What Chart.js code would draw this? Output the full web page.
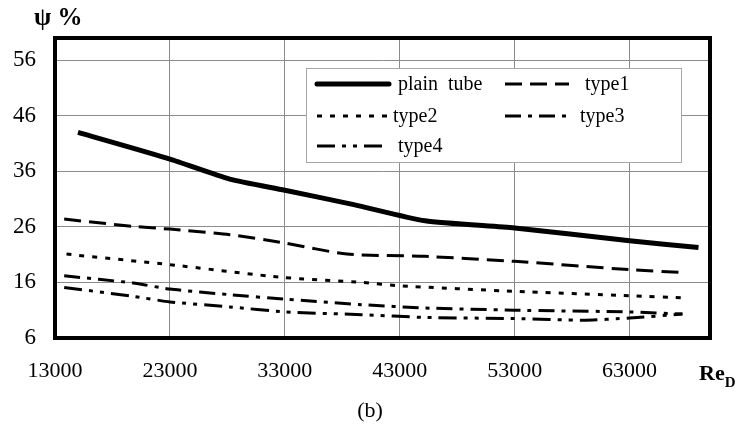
<!DOCTYPE html>
<html>
<head>
<meta charset="utf-8">
<script src="https://cdn.jsdelivr.net/npm/chart.js@4/dist/chart.umd.min.js"></script>
<style>
  html, body { margin: 0; padding: 0; background: #fff; }
  #wrap { width: 739px; height: 426px; }
</style>
</head>
<body>
<div id="wrap"><canvas id="c" width="739" height="426"></canvas></div>
<script>
// ---- data ----
const seriesNames = ["plain  tube", "type1", "type2", "type3", "type4"];

const plainRe  = [15000, 23000, 28200, 33000, 39000, 45200, 53000, 63000, 69000];
const plainPsi = [43.0, 38.2, 34.6, 32.6, 30.0, 27.1, 25.8, 23.5, 22.3];

const type1Re  = [13800, 19800, 23000, 28200, 33000, 38400, 45200, 53000, 63000, 67400];
const type1Psi = [27.4, 26.1, 25.6, 24.6, 23.1, 21.1, 20.7, 19.8, 18.3, 17.8];

const type2Re  = [14000, 23000, 32800, 39800, 43000, 53000, 63000, 68000];
const type2Psi = [21.1, 19.2, 16.9, 16.0, 15.4, 14.4, 13.6, 13.2];

const type3Re  = [13800, 19800, 23000, 28200, 33000, 39700, 45200, 53000, 63000, 67600];
const type3Psi = [17.2, 15.9, 14.8, 13.8, 13.0, 12.0, 11.4, 11.0, 10.7, 10.3];

const type4Re  = [13800, 19800, 23000, 28200, 33000, 39700, 45200, 53000, 59000, 63000, 67600];
const type4Psi = [15.1, 13.5, 12.5, 11.6, 10.7, 10.2, 9.7, 9.5, 9.2, 9.6, 10.3];

const xTicks = [13000, 23000, 33000, 43000, 53000, 63000];
const yTicks = [6, 16, 26, 36, 46, 56];
const xMin = 13000, xMax = 70000;
const yMin = 6, yMax = 60;

const yTitle = "ψ %";
const xTitleMain = "Re";
const xTitleSub = "D";
const caption = "(b)";

// ---- build chart ----
const pts = (xs, ys) => xs.map((x, i) => ({ x: x, y: ys[i] }));
const SERIF = "'Liberation Serif', 'Times New Roman', serif";

const styles = [
  { borderWidth: 5, borderDash: [] },
  { borderWidth: 3, borderDash: [17, 8] },
  { borderWidth: 3, borderDash: [5, 8] },
  { borderWidth: 3, borderDash: [16, 7, 4, 7] },
  { borderWidth: 3, borderDash: [18, 7, 4, 7, 4, 7] }
];
const dataPairs = [
  [plainRe, plainPsi], [type1Re, type1Psi], [type2Re, type2Psi],
  [type3Re, type3Psi], [type4Re, type4Psi]
];

const datasets = seriesNames.map((name, i) => ({
  label: name,
  data: pts(dataPairs[i][0], dataPairs[i][1]),
  borderColor: '#000',
  backgroundColor: '#000',
  borderWidth: styles[i].borderWidth,
  borderDash: styles[i].borderDash,
  borderCapStyle: 'butt',
  borderJoinStyle: 'round',
  pointRadius: 0,
  tension: 0.2,
  fill: false
}));

const decorPlugin = {
  id: 'decor',
  afterDatasetsDraw(chart) {
    const ctx = chart.ctx;
    const a = chart.chartArea;
    ctx.save();
    // frame
    ctx.strokeStyle = '#000';
    ctx.lineWidth = 4;
    ctx.setLineDash([]);
    ctx.strokeRect(a.left, a.top, a.right - a.left, a.bottom - a.top);

    // legend box
    const bx = 306, by = 68, bw = 375, bh = 94;
    ctx.fillStyle = '#fff';
    ctx.fillRect(bx, by, bw, bh);
    ctx.strokeStyle = '#a6a6a6';
    ctx.lineWidth = 1;
    ctx.strokeRect(bx + 0.5, by + 0.5, bw, bh);

    const items = [
      { i: 0, x1: 317, x2: 389, tx: 398, y: 84 },
      { i: 1, x1: 505, x2: 569, tx: 585, y: 84 },
      { i: 2, x1: 317, x2: 390, tx: 393, y: 116 },
      { i: 3, x1: 505, x2: 572, tx: 580, y: 116 },
      { i: 4, x1: 317, x2: 385, tx: 398, y: 146 }
    ];
    ctx.font = "20px " + SERIF;
    ctx.textBaseline = 'middle';
    ctx.textAlign = 'left';
    items.forEach(it => {
      const ds = chart.data.datasets[it.i];
      ctx.strokeStyle = '#000';
      ctx.lineWidth = ds.borderWidth;
      ctx.setLineDash(ds.borderDash);
      ctx.lineCap = ds.borderWidth > 3 ? 'round' : 'butt';
      ctx.beginPath();
      ctx.moveTo(it.x1, it.y);
      ctx.lineTo(it.x2, it.y);
      ctx.stroke();
      ctx.setLineDash([]);
      ctx.fillStyle = '#000';
      ctx.fillText(ds.label, it.tx, it.y + 1);
    });

    // axis titles and caption
    ctx.fillStyle = '#000';
    ctx.textBaseline = 'alphabetic';
    ctx.font = "bold 25px " + SERIF;
    ctx.fillText(yTitle, 34, 25);
    ctx.font = "bold 22px " + SERIF;
    ctx.fillText(xTitleMain, 699, 380);
    const w = ctx.measureText(xTitleMain).width;
    ctx.font = "bold 15px " + SERIF;
    ctx.fillText(xTitleSub, 699 + w, 387);
    ctx.font = "22px " + SERIF;
    ctx.textAlign = 'center';
    ctx.fillText(caption, 370, 417);
    ctx.restore();
  }
};

new Chart(document.getElementById('c'), {
  type: 'line',
  data: { datasets: datasets },
  options: {
    responsive: false,
    devicePixelRatio: 1,
    animation: false,
    layout: { padding: { top: 38, right: 29, left: 0, bottom: 0 } },
    plugins: { legend: { display: false }, tooltip: { enabled: false }, title: { display: false } },
    scales: {
      x: {
        type: 'linear',
        min: xMin, max: xMax,
        afterBuildTicks: s => { s.ticks = xTicks.map(v => ({ value: v })); },
        afterFit: s => { s.height = 88; },
        grid: { color: '#8c8c8c', lineWidth: 1, drawTicks: false },
        border: { display: false },
        ticks: {
          color: '#000', padding: 20, maxRotation: 0, autoSkip: false,
          font: { family: SERIF, size: 22 },
          callback: v => String(v)
        }
      },
      y: {
        type: 'linear',
        min: yMin, max: yMax,
        afterBuildTicks: s => { s.ticks = yTicks.map(v => ({ value: v })); },
        afterFit: s => { s.width = 55; },
        grid: { color: '#8c8c8c', lineWidth: 1, drawTicks: false },
        border: { display: false },
        ticks: {
          color: '#000', padding: 19, autoSkip: false,
          font: { family: SERIF, size: 23 },
          callback: v => String(v)
        }
      }
    }
  },
  plugins: [decorPlugin]
});
</script>
</body>
</html>
